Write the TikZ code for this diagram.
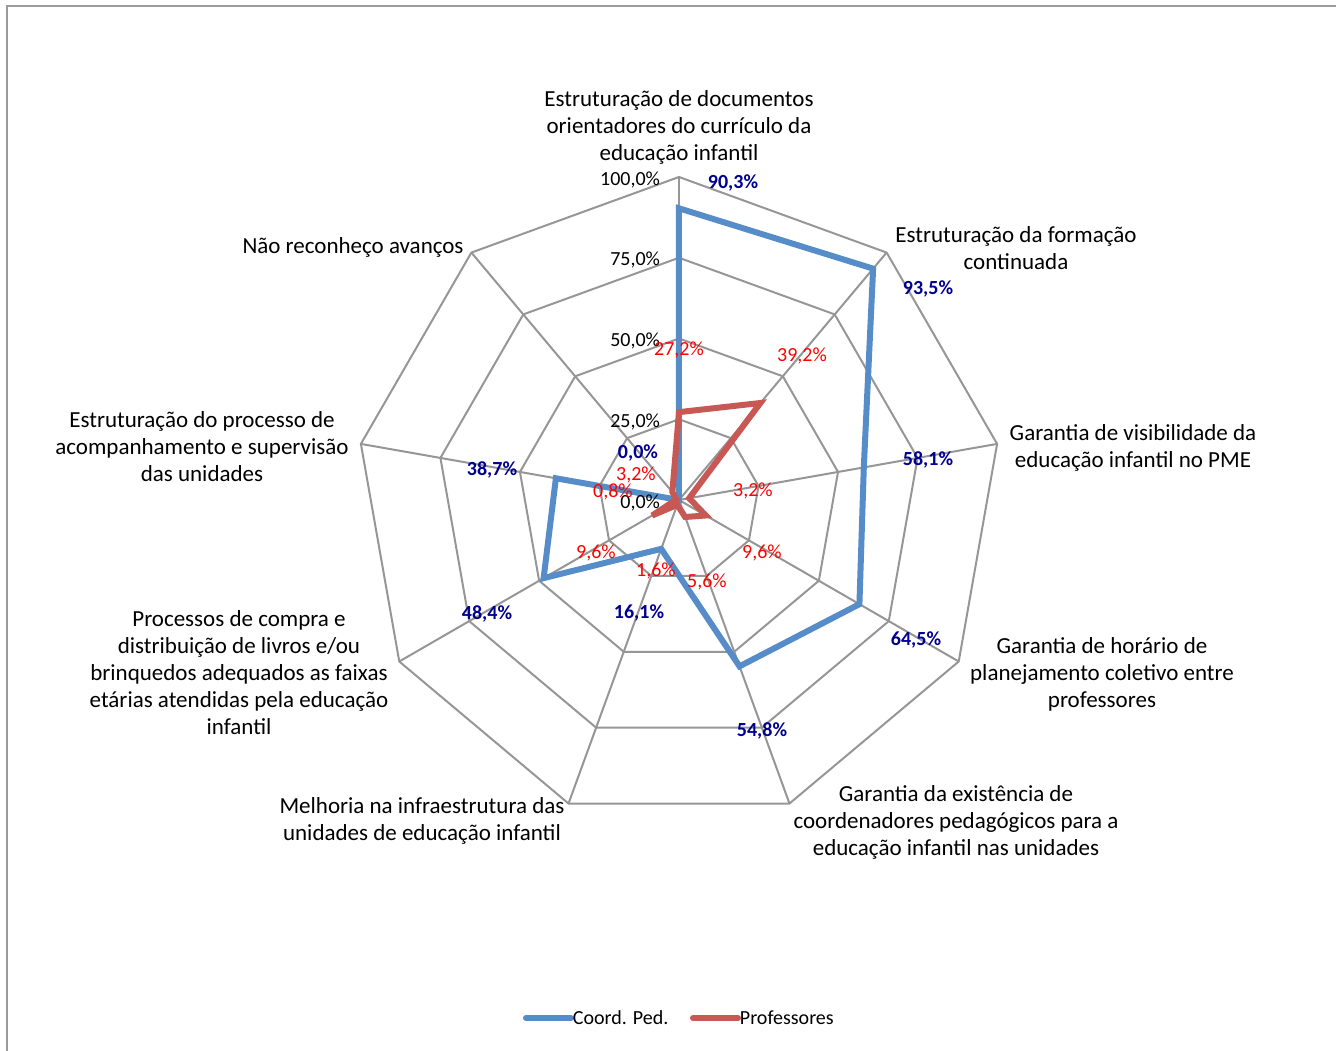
\documentclass[tikz,border=0pt]{standalone}
\usepackage{fontspec}
\setmainfont{Carlito}

\begin{document}
\begin{tikzpicture}[
		x=1pt, y=1pt,
		inner sep=0pt, outer sep=2pt,
		frame/.style={color=framegray, line width=2.5pt},
		grid/.style={color=gridgray, line width=2pt},
		series/.style={color=#1, line width=6pt, miter limit=3},
		key/.style={color=#1, line width=6pt, line cap=round},
		catlabel/.style={font=\fontsize{23}{27}\selectfont, align=center},
		ticklabel/.style={font=\fontsize{20}{24}\selectfont, anchor=east},
		valcoord/.style={font=\fontsize{20}{24}\selectfont\bfseries, color=navy},
		valprof/.style={font=\fontsize{20}{24}\selectfont, color=red},
		keytext/.style={font=\fontsize{20}{24}\selectfont, anchor=west},
	]
		% Colors
		\definecolor{framegray}{RGB}{155,155,155}
		\definecolor{gridgray}{RGB}{150,150,150}
		\definecolor{coordblue}{RGB}{86,140,200}
		\definecolor{profred}{RGB}{200,88,84}
		\definecolor{navy}{RGB}{0,0,145}
		\def\rad{323}

		\useasboundingbox (-679,-551) rectangle (657,500);

		% Frame
		\draw[frame] (-672,-560) -- (-672,494) -- (670,494);

		% Web
		\foreach \r in {0.25,0.5,0.75,1}
			\draw[grid] (90:{\r*\rad})
				\foreach \a in {50,10,...,-230} { -- (\a:{\r*\rad}) } -- cycle;
		\foreach \a in {90,50,...,-230}
			\draw[grid] (0,0) -- (\a:\rad);

		% Series
		\draw[series=coordblue] (90:{0.903*\rad})
			\foreach \a/\v in {50/0.935, 10/0.581, -30/0.645, -70/0.548,
				-110/0.161, -150/0.484, -190/0.387, -230/0.0}
				{ -- (\a:{\v*\rad}) } -- cycle;
		\draw[series=profred] (90:{0.272*\rad})
			\foreach \a/\v in {50/0.392, 10/0.032, -30/0.096, -70/0.056,
				-110/0.016, -150/0.096, -190/0.008, -230/0.032}
				{ -- (\a:{\v*\rad}) } -- cycle;

		% Scale
		\node[ticklabel] (tick0) at (-17,-3) {0,0\%};
		\node[ticklabel] (tick25) at (-17,78) {25,0\%};
		\node[ticklabel] (tick50) at (-17,159) {50,0\%};
		\node[ticklabel] (tick75) at (-17,240) {75,0\%};
		\node[ticklabel] (tick100) at (-17,320) {100,0\%};

		% Categories
		\node[catlabel] (cat1) at (0,373)
			{Estruturação de documentos\\orientadores do currículo da\\educação infantil};
		\node[catlabel] (cat2) at (337,252)
			{Estruturação da formação\\continuada};
		\node[catlabel] (cat3) at (454,52)
			{Garantia de visibilidade da\\educação infantil no PME};
		\node[catlabel] (cat4) at (423,-174)
			{Garantia de horário de\\planejamento coletivo entre\\professores};
		\node[catlabel] (cat5) at (277,-322)
			{Garantia da existência de\\coordenadores pedagógicos para a\\educação infantil nas unidades};
		\node[catlabel] (cat6) at (-257,-321)
			{Melhoria na infraestrutura das\\unidades de educação infantil};
		\node[catlabel] (cat7) at (-440,-173)
			{Processos de compra e\\distribuição de livros e/ou\\brinquedos adequados as faixas\\etárias atendidas pela educação\\infantil};
		\node[catlabel] (cat8) at (-477,53)
			{Estruturação do processo de\\acompanhamento e supervisão\\das unidades};
		\node[catlabel] (cat9) at (-326,253) {Não reconheço avanços};

		% Values, Coord. Ped.
		\node[valcoord] (c1) at (54,317) {90,3\%};
		\node[valcoord] (c2) at (249,211) {93,5\%};
		\node[valcoord] (c3) at (249,40) {58,1\%};
		\node[valcoord] (c4) at (237,-140) {64,5\%};
		\node[valcoord] (c5) at (83,-231) {54,8\%};
		\node[valcoord] (c6) at (-40,-113) {16,1\%};
		\node[valcoord] (c7) at (-192,-114) {48,4\%};
		\node[valcoord] (c8) at (-187,30) {38,7\%};
		\node[valcoord] (c9) at (-41,47) {0,0\%};

		% Values, Professores
		\node[valprof] (p1) at (0,150) {27,2\%};
		\node[valprof] (p2) at (123,144) {39,2\%};
		\node[valprof] (p3) at (74,9) {3,2\%};
		\node[valprof] (p4) at (83,-53) {9,6\%};
		\node[valprof] (p5) at (28,-82) {5,6\%};
		\node[valprof] (p6) at (-23,-71) {1,6\%};
		\node[valprof] (p7) at (-83,-53) {9,6\%};
		\node[valprof] (p8) at (-66,8) {0,8\%};
		\node[valprof] (p9) at (-43,25) {3,2\%};

		% Legend
		\coordinate (kc) at (-153,-518);
		\coordinate (kp) at (14,-518);
		\draw[key=coordblue] (kc) -- +(45,0)
			node[keytext, color=black] (kctext) {Coord. Ped.};
		\draw[key=profred] (kp) -- +(45,0)
			node[keytext, color=black] (kptext) {Professores};
	\end{tikzpicture}
\end{document}
